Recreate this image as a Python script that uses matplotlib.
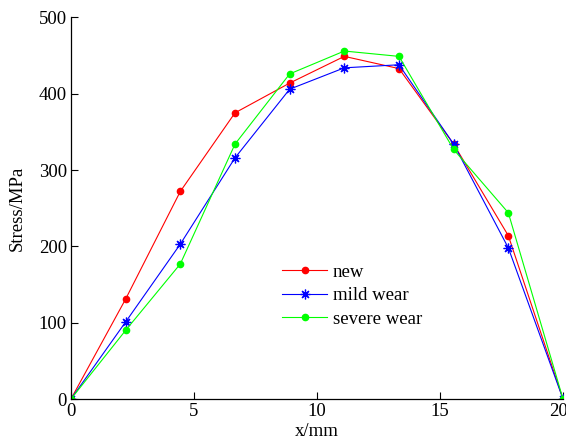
import matplotlib
matplotlib.use('Agg')
import matplotlib.pyplot as plt
import matplotlib.transforms as mtransforms
import numpy as np

plt.rcParams['font.family'] = ['Liberation Serif', 'DejaVu Serif']
plt.rcParams['font.size'] = 13.5

# positions along the path (mm)
x = [0, 2.222, 4.444, 6.667, 8.889, 11.111, 13.333, 15.556, 17.778, 20]
# stress values (MPa)
new = [0, 131, 272, 375, 414, 449, 433, 334, 214, 0]
mild_wear = [0, 101, 203, 316, 406, 434, 438, 334, 198, 0]
severe_wear = [0, 90, 177, 334, 426, 456, 449, 327, 244, 0]

fig = plt.figure(figsize=(5.66, 4.43), dpi=100)
ax = fig.add_axes([0.1254, 0.0993, 0.8693, 0.8613])

ax.plot(x, new, color='red', lw=0.8, marker='o', ms=4.5, label='new')
ax.plot(x, mild_wear, color='blue', lw=0.8, marker=(8, 2, 0), ms=7, mew=0.9, label='mild wear')
ax.plot(x, severe_wear, color='#00ff00', lw=0.8, marker='o', ms=4.5, label='severe wear')

ax.set_xlim(0, 20)
ax.set_ylim(0, 500)
ax.set_xticks([0, 5, 10, 15, 20])
ax.set_yticks([0, 100, 200, 300, 400, 500])
ax.tick_params(direction='in', length=5, width=0.8, pad=3)
for s in ['left', 'bottom']:
    ax.spines[s].set_linewidth(0.9)
ax.spines['top'].set_visible(False)
ax.spines['right'].set_visible(False)
ax.set_xlabel('x/mm', labelpad=2)
ax.set_ylabel('Stress/MPa', labelpad=9)

# keep the last x tick label inside the figure
last = ax.get_xticklabels()[-1]
last.set_transform(last.get_transform() + mtransforms.ScaledTranslation(-5 / 100, 0, fig.dpi_scale_trans))

ax.legend(loc='upper left', bbox_to_anchor=(0.41, 0.38), frameon=False,
          handlelength=2.4, handletextpad=0.3, labelspacing=0.35, borderpad=0)

fig.savefig('out.png', dpi=100)
